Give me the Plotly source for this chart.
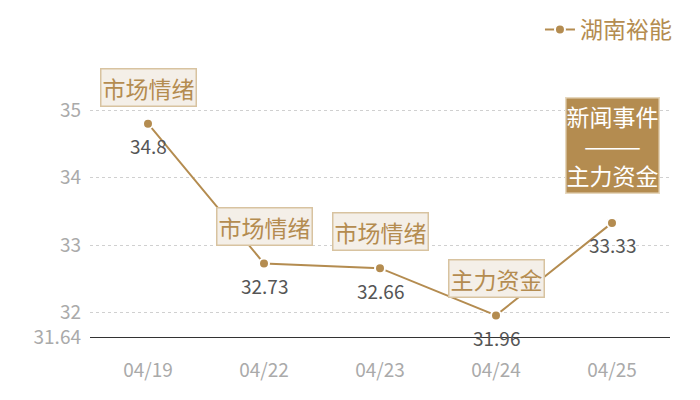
import plotly.graph_objects as go

# data
dates = ['04/19', '04/22', '04/23', '04/24', '04/25']
prices = [34.8, 32.73, 32.66, 31.96, 33.33]
tags = ['市场情绪', '市场情绪', '市场情绪', '主力资金', '新闻事件<br>———<br>主力资金']
dark_tag = [False, False, False, False, True]
y_ticks = [31.64, 32, 33, 34, 35]
y_top = 35.15

gold = '#b48c50'
font = 'Noto Sans CJK SC, Noto Sans, sans-serif'

# page has an 8px body margin, so the figure is drawn 8px smaller
W, H = 692, 392

fig = go.Figure()
fig.add_trace(go.Scatter(
    x=dates, y=prices, name='湖南裕能',
    mode='lines+markers',
    line=dict(color=gold, width=2),
    marker=dict(color=gold, size=10, line=dict(color='white', width=2)),
    cliponaxis=False,
))

# value labels under the points
for d, p in zip(dates, prices):
    fig.add_annotation(
        x=d, y=p, text=str(p), showarrow=False,
        xref='x', yref='y', yanchor='middle', yshift=-22,
        font=dict(size=19, color='#555555', family=font),
    )

# tag boxes above each point
for d, p, t, dark in zip(dates, prices, tags, dark_tag):
    fig.add_annotation(
        x=d, y=p, text=t, showarrow=False,
        xref='x', yref='y', yanchor='bottom',
        yshift=29 if dark else 17,
        font=dict(size=23, color='white' if dark else gold, family=font),
        bgcolor=gold if dark else '#f4efe8',
        bordercolor='#e6d7bd' if dark else '#d8c3a0',
        borderwidth=1.5, borderpad=0 if dark else 1,
    )

fig.update_layout(
    width=W, height=H,
    margin=dict(l=82, r=30, t=92, b=63, autoexpand=False),
    plot_bgcolor='white', paper_bgcolor='white',
    font=dict(family=font),
    showlegend=True,
    legend=dict(orientation='h', x=1.012, xanchor='right', y=1.388, yanchor='top',
                font=dict(size=23, color=gold, family=font),
                itemwidth=30, bgcolor='rgba(0,0,0,0)', tracegroupgap=0),
)
fig.update_xaxes(
    type='category', range=[-0.5, 4.5],
    showgrid=False, showline=True, linecolor='#333333', linewidth=1.2,
    tickfont=dict(size=19, color='#aaaaaa'), ticklabelstandoff=16,
    zeroline=False,
)
fig.update_yaxes(
    range=[31.64, y_top],
    tickvals=y_ticks + [y_top], ticktext=[str(v) for v in y_ticks] + [''],
    showgrid=True, gridcolor='#d0d0d0', griddash='dot', gridwidth=1,
    tickfont=dict(size=19, color='#aaaaaa'), ticklabelstandoff=8,
    zeroline=False, showline=False,
)

fig.write_html('out.html')
